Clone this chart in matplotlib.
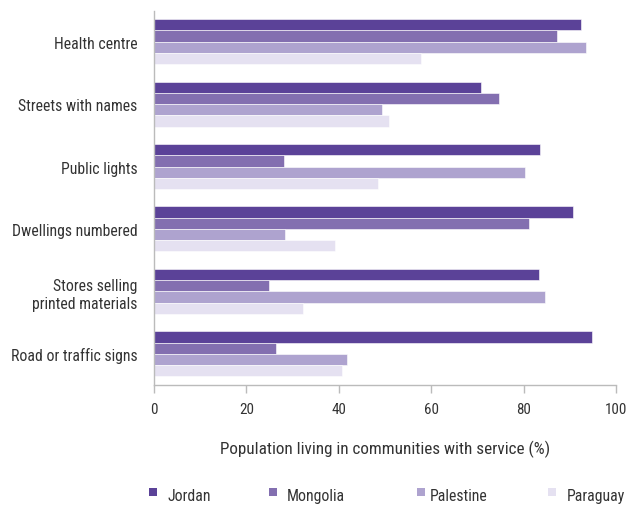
import matplotlib
matplotlib.use("Agg")
import matplotlib.pyplot as plt
import numpy as np
from matplotlib.patches import Rectangle
from matplotlib import font_manager

# pick a condensed sans font if one is installed
cands = []
for f in font_manager.fontManager.ttflist:
    st = str(f.stretch).lower()
    nm = f.name
    cond = ("condensed" in nm.lower() or "narrow" in nm.lower() or st in ("condensed", "semi-condensed", "extra-condensed") or (isinstance(f.stretch, int) and f.stretch < 500))
    if cond and f.style == "normal" and f.weight in (400, "normal", "regular"):
        pr = 0
        if "Roboto" in nm: pr = 3
        elif "Narrow" in nm: pr = 2
        elif "DejaVu" in nm: pr = 1
        cands.append((pr, f.fname, nm))
cands.sort(reverse=True)
if cands:
    font_manager.fontManager.addfont(cands[0][1])
    prop = font_manager.FontProperties(fname=cands[0][1])
    fam_name = prop.get_name()
    plt.rcParams['font.family'] = [fam_name, "DejaVu Sans"]
    plt.rcParams['font.stretch'] = prop.get_stretch()
    fs = 11.3 if "DejaVu" not in fam_name else 10
else:
    plt.rcParams['font.family'] = ["Roboto", "DejaVu Sans"]
    fs = 9.5

categories = ["Health centre", "Streets with names", "Public lights", "Dwellings numbered",
              "Stores selling\nprinted materials", "Road or traffic signs"]
series = ["Jordan", "Mongolia", "Palestine", "Paraguay"]
jordan = [92.4, 70.7, 83.6, 90.8, 83.3, 94.9]
mongolia = [87.2, 74.6, 28.1, 81.1, 24.9, 26.5]
palestine = [93.6, 49.4, 80.4, 28.4, 84.6, 41.7]
paraguay = [57.8, 50.8, 48.5, 39.1, 32.3, 40.7]
xticks = [0, 20, 40, 60, 80, 100]
xlabel = "Population living in communities with service (%)"

colors = ["#5b4298", "#836fb0", "#aea3cf", "#e5e1f1"]
data = [jordan, mongolia, palestine, paraguay]
txt = "#333333"

fig = plt.figure(figsize=(6.26, 5.06), dpi=100)
ax = fig.add_axes([154/626, 1-386/506, 462/626, 374.5/506])

y = np.arange(len(categories))
h = 0.18
for i, (vals, c) in enumerate(zip(data, colors)):
    ax.barh(y - 0.27 + i*h, vals, height=h, color=c, edgecolor="white", linewidth=0.4)

ax.set_ylim(len(categories) - 0.5, -0.5)
ax.set_xlim(0, 100)
ax.set_yticks(y)
ax.set_yticklabels(categories, fontsize=fs, color=txt, linespacing=1.3)
ax.tick_params(axis="y", length=0, pad=12)
ax.set_xticks(xticks)
ax.set_xticklabels([str(v) for v in xticks], fontsize=fs - 0.5, color=txt)
ax.tick_params(axis="x", length=6, color="#bbbbbb", pad=6, width=1)
ax.set_xlabel(xlabel, fontsize=fs + 1, color=txt, labelpad=17)
for s in ["top", "right"]:
    ax.spines[s].set_visible(False)
for s in ["left", "bottom"]:
    ax.spines[s].set_color("#bbbbbb")
    ax.spines[s].set_linewidth(1)

# legend, manually laid out
sq_x = [149, 269, 417, 548]
tx_x = [167, 287, 430, 567]
sq_y = 493
tx_y = 497
for sx, tx, name, c in zip(sq_x, tx_x, series, colors):
    fig.patches.append(Rectangle((sx/626, 1-(sq_y+4)/506), 8/626, 8/506,
                                 transform=fig.transFigure, facecolor=c, edgecolor="none"))
    fig.text(tx/626, 1-tx_y/506, name, fontsize=fs, color=txt, va="center", ha="left")

fig.savefig("out.png", dpi=100)
